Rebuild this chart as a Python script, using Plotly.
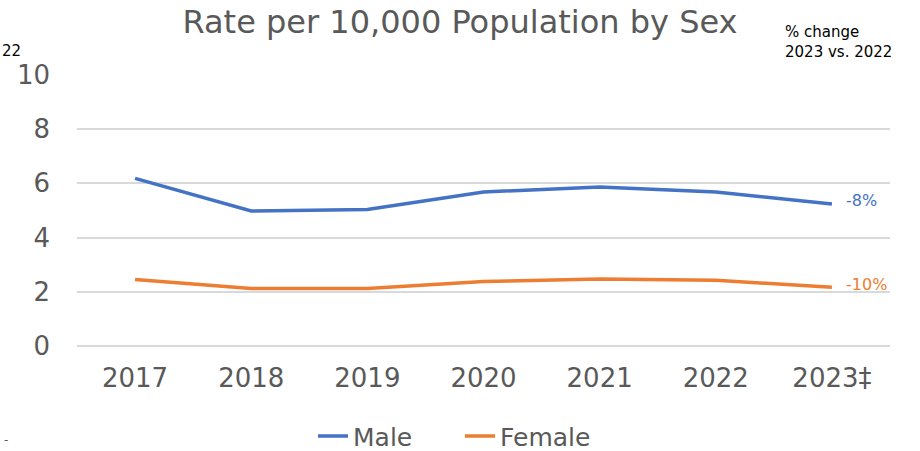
import plotly.graph_objects as go

years = ["2017", "2018", "2019", "2020", "2021", "2022", "2023‡"]
male = [6.18, 4.98, 5.03, 5.68, 5.86, 5.68, 5.24]
female = [2.45, 2.12, 2.12, 2.38, 2.47, 2.42, 2.17]
change_labels = ["-8%", "-10%"]

BLUE = "#4472C4"
ORANGE = "#ED7D31"
GREY = "#595959"
FONT = "DejaVu Sans"

fig = go.Figure()
fig.add_trace(go.Scatter(x=years, y=male, name="Male", mode="lines",
                         line=dict(color=BLUE, width=3.5)))
fig.add_trace(go.Scatter(x=years, y=female, name="Female", mode="lines",
                         line=dict(color=ORANGE, width=3.5)))

# % change labels at the end of each line
for vals, lab, col in [(male, change_labels[0], BLUE), (female, change_labels[1], ORANGE)]:
    fig.add_annotation(x=years[-1], y=vals[-1], text=lab, showarrow=False,
                       xanchor="left", xshift=12, yshift=3,
                       font=dict(family=FONT, size=16, color=col))

fig.add_annotation(xref="paper", yref="paper", x=0.869, y=1.195, xanchor="left", yanchor="top",
                   text="% change<br>2023 vs. 2022", showarrow=False, align="left",
                   font=dict(family=FONT, size=15, color="black"))
fig.add_annotation(xref="paper", yref="paper", x=-0.0947, y=1.083, xanchor="left", yanchor="middle",
                   text="22", showarrow=False,
                   font=dict(family=FONT, size=15, color="black"))
fig.add_annotation(xref="paper", yref="paper", x=-0.092, y=-0.345, xanchor="left", yanchor="middle",
                   text="-", showarrow=False,
                   font=dict(family=FONT, size=12, color=GREY))

fig.update_layout(
    width=920, height=451,
    margin=dict(l=77, r=30, t=74, b=105, autoexpand=False),
    paper_bgcolor="white", plot_bgcolor="white",
    title=dict(text="Rate per 10,000 Population by Sex", x=0.5, xanchor="center",
               y=0.951, yanchor="middle",
               font=dict(family=FONT, size=32, color=GREY)),
    font=dict(family=FONT, color=GREY),
    showlegend=True,
    legend=dict(orientation="h", xref="container", x=0.5, xanchor="center",
                y=-0.332, yanchor="middle", entrywidth=102,
                font=dict(family=FONT, size=25, color=GREY)),
    xaxis=dict(type="category", range=[-0.5, 6.5], showgrid=False, showline=False,
               ticks="", ticklabelstandoff=14,
               tickfont=dict(family=FONT, size=26, color=GREY)),
    yaxis=dict(range=[0, 10.03], dtick=2, showgrid=True, gridcolor="#D9D9D9", gridwidth=1.5,
               zeroline=True, zerolinecolor="#D9D9D9", zerolinewidth=1.5,
               ticks="", ticklabelstandoff=26,
               tickfont=dict(family=FONT, size=26, color=GREY)),
)

# drop the page's default 8px body margin so the chart sits at the window origin
fig.write_html("out.html", config={"displayModeBar": False},
               post_script="document.body.style.margin='0';")
